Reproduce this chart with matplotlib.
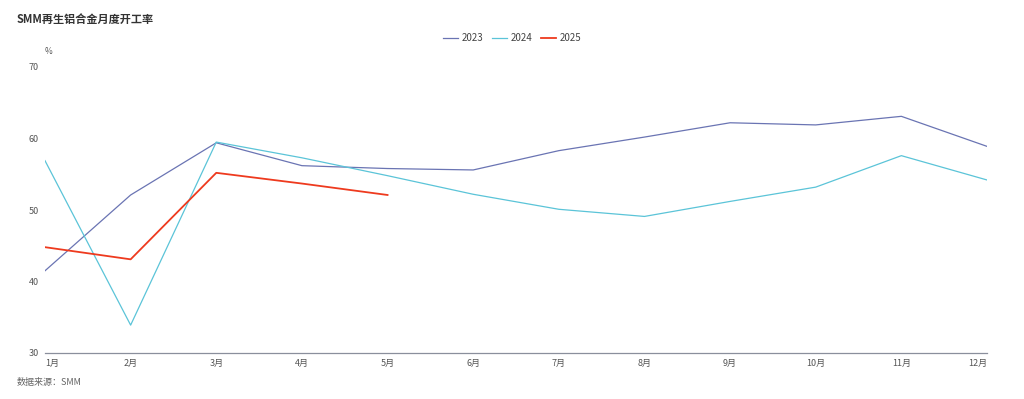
import matplotlib
matplotlib.use("Agg")
import matplotlib.pyplot as plt

plt.rcParams['font.family'] = ['Noto Sans CJK SC', 'DejaVu Sans']

months = ["1月", "2月", "3月", "4月", "5月", "6月", "7月", "8月", "9月", "10月", "11月", "12月"]
s2023 = [41.5, 52.1, 59.4, 56.2, 55.8, 55.6, 58.3, 60.2, 62.2, 61.9, 63.1, 58.9]
s2024 = [56.9, 33.9, 59.5, 57.3, 54.8, 52.2, 50.1, 49.1, 51.2, 53.2, 57.6, 54.2]
s2025 = [44.8, 43.1, 55.2, 53.7, 52.1]
yticks = [30, 40, 50, 60, 70]

fig = plt.figure(figsize=(10.24, 3.99), dpi=100)
ax = fig.add_axes([45/1024, 1-353/399, (987-45)/1024, (353-67)/399])

x = list(range(len(months)))
ax.plot(x, s2023, color='#6a74b3', lw=0.9, label='2023')
ax.plot(x, s2024, color='#5bc4d8', lw=0.9, label='2024')
ax.plot(x[:len(s2025)], s2025, color='#ee3a1e', lw=1.3, label='2025')

ax.set_xlim(0, len(months)-1)
ax.set_ylim(30, 70)
ax.set_yticks(yticks)
ax.set_yticklabels([str(v) for v in yticks])
ax.set_xticks(x)
ax.set_xticklabels(months)
labels = ax.get_xticklabels()
labels[0].set_ha('left')
labels[-1].set_ha('right')

for s in ['top', 'right', 'left']:
    ax.spines[s].set_visible(False)
ax.spines['bottom'].set_color('#8a8f9c')
ax.spines['bottom'].set_linewidth(0.9)
ax.tick_params(axis='both', length=0, labelsize=6.5, labelcolor='#555555')
ax.tick_params(axis='y', pad=4.5)
ax.tick_params(axis='x', pad=4)

ax.text(0.0, (353-52)/286, '%', transform=ax.transAxes, fontsize=6, color='#555555', ha='left', va='center')

fig.text(17/1024, 1-19/399, 'SMM再生铝合金月度开工率', fontsize=8, fontweight='bold', color='#333333', ha='left', va='center')
fig.text(17/1024, 1-382/399, '数据来源：SMM', fontsize=6.5, style='italic', color='#666666', ha='left', va='center')

leg = fig.legend(loc='center', bbox_to_anchor=(512/1024, 1-38/399), ncol=3, frameon=False,
                 fontsize=7, handlelength=1.5, handletextpad=0.4, columnspacing=0.9)
for t in leg.get_texts():
    t.set_color('#444444')

fig.savefig('out.png', dpi=100)
